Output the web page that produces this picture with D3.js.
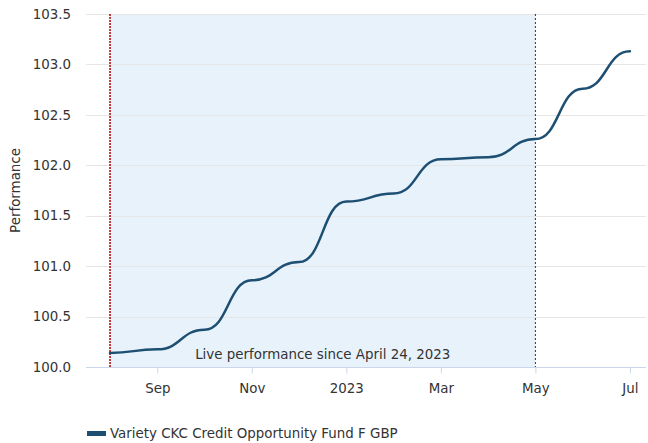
<!DOCTYPE html>
<html>
<head>
<meta charset="utf-8">
<script src="https://cdn.jsdelivr.net/npm/d3@7"></script>
<style>
  body { margin: 0; background: #fff; }
  svg { font-family: Verdana, "DejaVu Sans", sans-serif; }
</style>
</head>
<body>
<div id="chart"></div>
<script>
//data: one point per month, Aug 2022 - Jul 2023
var months = ["Aug", "Sep", "Oct", "Nov", "Dec", "2023", "Feb", "Mar", "Apr", "May", "Jun", "Jul"];
var values = [100.14, 100.175, 100.37, 100.86, 101.04, 101.64, 101.72, 102.06, 102.08, 102.26, 102.76, 103.13];
var tickIdx = [1, 3, 5, 7, 9, 11];
var yTicks = [100.0, 100.5, 101.0, 101.5, 102.0, 102.5, 103.0, 103.5];
var seriesName = "Variety CKC Credit Opportunity Fund F GBP";
var liveLabel = "Live performance since April 24, 2023";
var startIdx = 0;   // red dashed line
var liveIdx = 9;    // black dashed line (May)

var outerWidth = 648;
var outerHeight = 443;
var margin = { left: 86, top: 14, right: 2, bottom: 76 };
var innerWidth = outerWidth - margin.left - margin.right;
var innerHeight = outerHeight - margin.top - margin.bottom;
var fontSize = "13.4px";

var svg = d3.select("#chart").append("svg")
    .attr("width", outerWidth)
    .attr("height", outerHeight);

var g = svg.append("g")
    .attr("transform", "translate(" + margin.left + "," + margin.top + ")");

//scales
var x = d3.scaleLinear()
    .domain([-0.508, 11.34])
    .range([0, innerWidth]);

var y = d3.scaleLinear()
    .domain([100, 103.5])
    .range([innerHeight, 0]);

//live band
g.append("rect")
    .attr("x", x(startIdx))
    .attr("y", 0)
    .attr("width", x(liveIdx) - x(startIdx))
    .attr("height", innerHeight)
    .attr("fill", "#e8f2fb");

//grid
g.selectAll(".grid")
    .data(yTicks)
    .enter().append("line")
    .attr("x1", 0)
    .attr("x2", innerWidth)
    .attr("y1", function (d) { return Math.round(y(d)) + 0.5; })
    .attr("y2", function (d) { return Math.round(y(d)) + 0.5; })
    .attr("stroke", "#e6e6e6")
    .attr("stroke-width", 1);

//y labels
g.selectAll(".ylab")
    .data(yTicks)
    .enter().append("text")
    .attr("x", -15)
    .attr("y", function (d) { return y(d); })
    .attr("dy", "0.35em")
    .attr("text-anchor", "end")
    .attr("font-size", fontSize)
    .attr("fill", "#333")
    .text(function (d) { return d.toFixed(1); });

//x axis
var xAxis = d3.axisBottom(x)
    .tickValues(tickIdx)
    .tickSize(6)
    .tickFormat(function (d) { return months[d]; });

var ax = g.append("g")
    .attr("transform", "translate(0," + (innerHeight + 0.5) + ")")
    .call(xAxis);
ax.select(".domain").attr("stroke", "#ccd6eb").attr("d", "M0,0H" + innerWidth);
ax.selectAll(".tick line").attr("stroke", "#ccd6eb");
ax.selectAll(".tick text")
    .attr("y", 16)
    .attr("font-size", fontSize)
    .attr("font-family", "Verdana, 'DejaVu Sans', sans-serif")
    .attr("fill", "#333");

//marker lines
g.append("line")
    .attr("x1", x(startIdx)).attr("x2", x(startIdx))
    .attr("y1", 0).attr("y2", innerHeight)
    .attr("stroke", "#b00000")
    .attr("stroke-width", 1.5)
    .attr("stroke-dasharray", "2,1");

g.append("line")
    .attr("x1", x(liveIdx)).attr("x2", x(liveIdx))
    .attr("y1", 0).attr("y2", innerHeight)
    .attr("stroke", "#333")
    .attr("stroke-width", 1)
    .attr("stroke-dasharray", "2,2");

//live label
g.append("text")
    .attr("x", (x(startIdx) + x(liveIdx)) / 2)
    .attr("y", innerHeight - 8)
    .attr("text-anchor", "middle")
    .attr("font-size", fontSize)
    .attr("fill", "#333")
    .text(liveLabel);

//series line
var line = d3.line()
    .x(function (d, i) { return x(i); })
    .y(function (d) { return y(d); })
    .curve(d3.curveBumpX);

g.append("path")
    .datum(values)
    .attr("d", line)
    .attr("fill", "none")
    .attr("stroke", "#1d4f73")
    .attr("stroke-width", 2.5)
    .attr("stroke-linecap", "round");

//y title
svg.append("text")
    .attr("transform", "translate(20," + (margin.top + innerHeight / 2) + ") rotate(-90)")
    .attr("text-anchor", "middle")
    .attr("font-size", fontSize)
    .attr("fill", "#333")
    .text("Performance");

//legend
svg.append("rect")
    .attr("x", 87)
    .attr("y", 431)
    .attr("width", 19)
    .attr("height", 5)
    .attr("fill", "#1d4f73");

svg.append("text")
    .attr("x", 110)
    .attr("y", 433)
    .attr("dy", "0.35em")
    .attr("font-size", fontSize)
    .attr("fill", "#333")
    .text(seriesName);
</script>
</body>
</html>
